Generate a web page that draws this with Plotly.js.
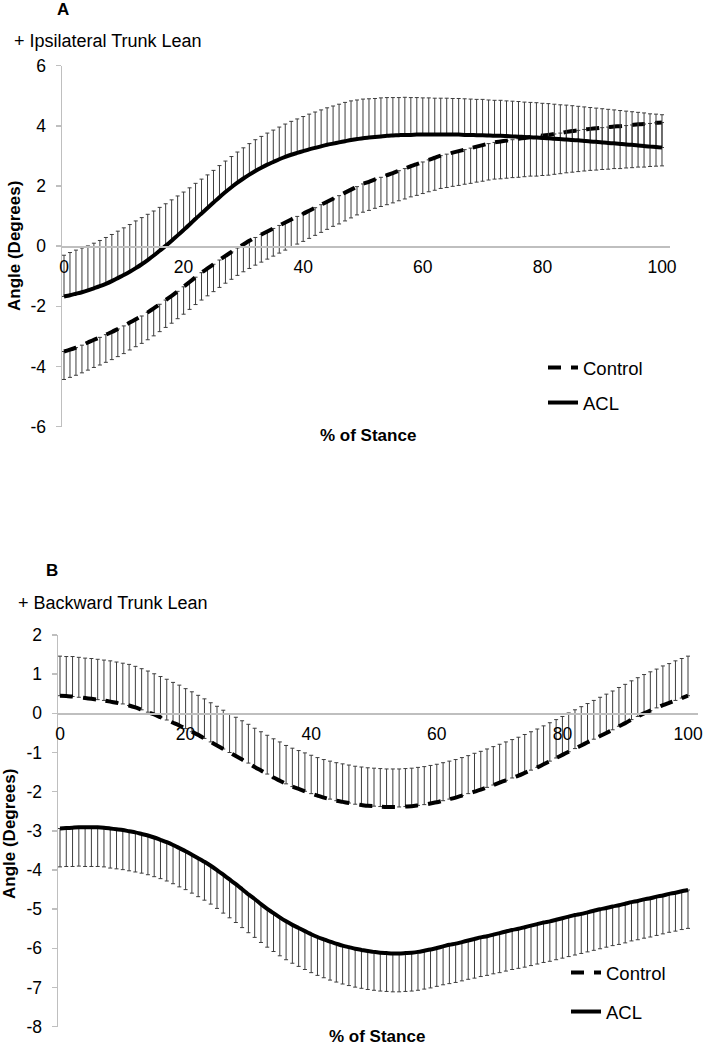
<!DOCTYPE html>
<html>
<head>
<meta charset="utf-8">
<script src="https://cdn.plot.ly/plotly-3.0.1.min.js"></script>
<style>
  html, body { margin: 0; padding: 0; background: #ffffff; }
  #chart { width: 703px; height: 1048px; }
</style>
</head>
<body>
<div id="chart"></div>
<script>
// ---------------- DATA ----------------
// % of stance (0..100, one sample per percent)
const stancePct = [0,1,2,3,4,5,6,7,8,9,10,11,12,13,14,15,16,17,18,19,20,21,22,23,24,25,26,27,28,29,30,31,32,33,34,35,36,37,38,39,40,41,42,43,44,45,46,47,48,49,50,51,52,53,54,55,56,57,58,59,60,61,62,63,64,65,66,67,68,69,70,71,72,73,74,75,76,77,78,79,80,81,82,83,84,85,86,87,88,89,90,91,92,93,94,95,96,97,98,99,100];

// Panel A: ipsilateral trunk lean (degrees)
const controlA = [-3.50,-3.44,-3.37,-3.29,-3.20,-3.11,-3.03,-2.94,-2.85,-2.75,-2.65,-2.54,-2.43,-2.32,-2.20,-2.07,-1.93,-1.79,-1.65,-1.50,-1.35,-1.19,-1.03,-0.88,-0.74,-0.60,-0.46,-0.32,-0.19,-0.06,0.06,0.18,0.29,0.39,0.49,0.59,0.69,0.79,0.89,0.99,1.08,1.18,1.28,1.38,1.48,1.58,1.68,1.78,1.88,1.98,2.07,2.14,2.22,2.29,2.36,2.43,2.51,2.58,2.66,2.73,2.80,2.87,2.94,3.01,3.06,3.11,3.16,3.21,3.26,3.31,3.36,3.41,3.45,3.48,3.51,3.54,3.57,3.60,3.63,3.65,3.68,3.70,3.73,3.76,3.80,3.83,3.85,3.88,3.90,3.92,3.94,3.96,3.98,3.99,4.01,4.03,4.05,4.06,4.08,4.10,4.11];
const controlA_sd = [0.93,0.92,0.92,0.92,0.92,0.92,0.92,0.92,0.92,0.92,0.92,0.91,0.91,0.91,0.91,0.91,0.91,0.91,0.91,0.91,0.91,0.91,0.91,0.91,0.91,0.91,0.91,0.91,0.91,0.91,0.91,0.92,0.92,0.92,0.92,0.92,0.92,0.92,0.92,0.92,0.92,0.92,0.92,0.92,0.92,0.92,0.94,0.94,0.94,0.94,0.94,0.95,0.96,0.97,0.98,0.99,1.00,1.01,1.02,1.04,1.05,1.06,1.08,1.09,1.11,1.12,1.14,1.15,1.17,1.18,1.20,1.21,1.22,1.24,1.25,1.26,1.28,1.29,1.30,1.32,1.33,1.34,1.34,1.35,1.36,1.37,1.37,1.38,1.38,1.39,1.39,1.40,1.40,1.41,1.41,1.42,1.42,1.43,1.43,1.44,1.44];
const aclA = [-1.67,-1.63,-1.58,-1.53,-1.47,-1.40,-1.33,-1.25,-1.16,-1.06,-0.96,-0.85,-0.73,-0.60,-0.46,-0.31,-0.15,0.01,0.18,0.36,0.54,0.72,0.91,1.09,1.27,1.45,1.63,1.80,1.96,2.11,2.25,2.38,2.50,2.61,2.71,2.80,2.89,2.97,3.04,3.10,3.16,3.22,3.27,3.32,3.37,3.41,3.45,3.49,3.53,3.56,3.59,3.61,3.63,3.65,3.67,3.68,3.69,3.70,3.70,3.71,3.71,3.71,3.71,3.71,3.71,3.71,3.71,3.70,3.70,3.69,3.69,3.68,3.67,3.67,3.66,3.65,3.64,3.63,3.62,3.61,3.60,3.59,3.57,3.56,3.55,3.53,3.52,3.50,3.48,3.47,3.45,3.43,3.42,3.40,3.38,3.37,3.35,3.33,3.31,3.30,3.28];
const aclA_sd = [1.37,1.42,1.45,1.47,1.48,1.50,1.52,1.54,1.55,1.56,1.57,1.57,1.57,1.55,1.52,1.48,1.44,1.40,1.36,1.31,1.26,1.22,1.18,1.14,1.10,1.07,1.05,1.03,1.02,1.02,1.02,1.03,1.04,1.04,1.05,1.06,1.07,1.09,1.11,1.13,1.15,1.17,1.19,1.21,1.23,1.25,1.27,1.29,1.30,1.30,1.30,1.29,1.28,1.28,1.27,1.26,1.25,1.25,1.24,1.23,1.22,1.22,1.21,1.21,1.21,1.20,1.20,1.20,1.19,1.19,1.19,1.18,1.18,1.18,1.17,1.17,1.17,1.16,1.16,1.16,1.15,1.15,1.15,1.14,1.14,1.14,1.13,1.13,1.13,1.12,1.12,1.12,1.11,1.11,1.11,1.10,1.10,1.10,1.09,1.09,1.09];

// Panel B: backward trunk lean (degrees)
const controlB = [0.45,0.44,0.43,0.41,0.39,0.37,0.35,0.33,0.30,0.27,0.24,0.20,0.15,0.09,0.03,-0.03,-0.10,-0.17,-0.24,-0.31,-0.39,-0.47,-0.55,-0.64,-0.73,-0.82,-0.91,-1.00,-1.09,-1.18,-1.27,-1.37,-1.46,-1.55,-1.64,-1.72,-1.80,-1.87,-1.93,-1.99,-2.05,-2.10,-2.15,-2.19,-2.23,-2.26,-2.29,-2.32,-2.34,-2.36,-2.37,-2.38,-2.39,-2.39,-2.39,-2.38,-2.37,-2.35,-2.33,-2.30,-2.27,-2.23,-2.19,-2.15,-2.10,-2.05,-2.00,-1.95,-1.89,-1.83,-1.77,-1.71,-1.65,-1.59,-1.52,-1.45,-1.38,-1.30,-1.22,-1.14,-1.06,-0.98,-0.90,-0.82,-0.74,-0.66,-0.58,-0.50,-0.42,-0.33,-0.25,-0.16,-0.08,0.00,0.07,0.14,0.21,0.27,0.33,0.39,0.45];
const controlB_sd = [1.01,1.01,1.02,1.02,1.02,1.03,1.03,1.03,1.04,1.04,1.04,1.05,1.05,1.05,1.05,1.04,1.04,1.04,1.03,1.03,1.02,1.02,1.01,1.01,1.00,1.00,0.99,0.99,0.99,0.99,0.99,0.99,0.99,0.99,0.99,0.99,0.98,0.98,0.98,0.98,0.98,0.97,0.97,0.97,0.97,0.97,0.97,0.97,0.97,0.97,0.97,0.97,0.97,0.97,0.97,0.97,0.97,0.97,0.97,0.97,0.97,0.97,0.97,0.97,0.97,0.97,0.98,0.98,0.98,0.98,0.98,0.98,0.98,0.98,0.98,0.98,0.98,0.98,0.98,0.98,0.98,0.99,0.99,0.99,0.99,0.99,0.99,0.99,0.99,0.99,0.99,0.99,0.99,0.99,0.99,0.99,1.00,1.00,1.01,1.01,1.01];
const aclB = [-2.94,-2.93,-2.92,-2.91,-2.91,-2.91,-2.91,-2.92,-2.94,-2.96,-2.98,-3.01,-3.04,-3.08,-3.12,-3.17,-3.23,-3.29,-3.36,-3.44,-3.52,-3.61,-3.70,-3.79,-3.89,-4.00,-4.12,-4.24,-4.36,-4.49,-4.62,-4.74,-4.87,-4.99,-5.10,-5.21,-5.31,-5.40,-5.48,-5.56,-5.64,-5.71,-5.77,-5.83,-5.88,-5.93,-5.97,-6.01,-6.04,-6.07,-6.09,-6.11,-6.12,-6.13,-6.13,-6.12,-6.11,-6.09,-6.06,-6.03,-5.99,-5.95,-5.91,-5.88,-5.84,-5.80,-5.76,-5.72,-5.69,-5.65,-5.61,-5.57,-5.53,-5.50,-5.46,-5.42,-5.38,-5.34,-5.31,-5.27,-5.23,-5.19,-5.15,-5.12,-5.08,-5.04,-5.00,-4.97,-4.93,-4.90,-4.86,-4.82,-4.79,-4.75,-4.72,-4.68,-4.65,-4.61,-4.58,-4.54,-4.51];
const aclB_sd = [0.98,0.98,0.99,0.99,1.00,1.00,1.00,1.00,1.01,1.01,1.01,1.01,1.01,1.00,1.00,1.00,0.99,0.99,0.99,0.99,0.98,0.98,0.98,0.98,0.98,0.98,0.98,0.98,0.98,0.98,0.98,0.98,0.98,0.98,0.98,0.98,0.98,0.98,0.98,0.98,0.98,0.98,0.98,0.98,0.98,0.98,0.98,0.98,0.98,0.98,0.98,0.98,0.98,0.98,0.98,0.98,0.98,0.98,0.98,0.98,0.98,0.98,0.99,0.99,0.99,0.99,1.00,1.00,1.00,1.00,1.01,1.01,1.01,1.01,1.02,1.02,1.02,1.02,1.02,1.02,1.02,1.02,1.02,1.01,1.01,1.01,1.01,1.00,1.00,1.00,1.00,0.99,0.99,0.99,0.99,0.99,0.98,0.98,0.98,0.98,0.98];

// Labels and ticks
const seriesNames = ["Control", "ACL"];
const panelLabels = ["A", "B"];
const panelCaptions = ["+ Ipsilateral Trunk Lean", "+ Backward Trunk Lean"];
const yTitle = "Angle (Degrees)";
const xTitle = "% of Stance";
const xTicks = [0, 20, 40, 60, 80, 100];
const yTicksA = [-6, -4, -2, 0, 2, 4, 6];
const yTicksB = [-8, -7, -6, -5, -4, -3, -2, -1, 0, 1, 2];

// ---------------- LAYOUT HELPERS ----------------
const W = 703, H = 1048;
const px = v => v / W;            // horizontal pixel -> paper
const py = v => 1 - v / H;        // vertical pixel -> paper
const FONT = "Liberation Sans, Arial, Helvetica, sans-serif";
const AXIS_GRAY = "#bfbfbf";
const BAR_COLOR = "#3d3d3d";
const LINE_COLOR = "#000000";
const DASH = "13px,10px";

function trace(y, sd, up, dashed, xa, ya, name, legendId) {
  const err = { type: "data", symmetric: false, color: BAR_COLOR, thickness: 1, width: 2 };
  if (up) { err.array = sd; } else { err.arrayminus = sd; err.array = []; }
  return {
    x: stancePct, y: y, xaxis: xa, yaxis: ya, name: name, legend: legendId,
    type: "scatter", mode: "lines",
    line: { color: LINE_COLOR, width: 4, dash: dashed ? DASH : "solid", shape: "spline", smoothing: 0.6 },
    error_y: err, hoverinfo: "skip"
  };
}

const data = [
  trace(controlA, controlA_sd, false, true, "x", "y", seriesNames[0], "legend"),
  trace(aclA, aclA_sd, true, false, "x", "y", seriesNames[1], "legend2"),
  trace(controlB, controlB_sd, true, true, "x2", "y2", seriesNames[0], "legend3"),
  trace(aclB, aclB_sd, false, false, "x2", "y2", seriesNames[1], "legend4")
];

const tickFont = { family: FONT, size: 17.5, color: "#000" };

function xAxis(domL, domR, r0, r1, posPx) {
  return {
    domain: [px(domL), px(domR)], range: [r0, r1], anchor: "free", position: py(posPx),
    showline: true, linecolor: AXIS_GRAY, linewidth: 1.5, showgrid: false, zeroline: false,
    ticks: "", tickvals: xTicks, ticktext: xTicks.map(String), tickfont: tickFont,
    ticklabelstandoff: 4, fixedrange: true
  };
}
function yAxis(domTop, domBot, r0, r1, ticks, anchor) {
  return {
    domain: [py(domBot), py(domTop)], range: [r0, r1], anchor: anchor,
    showline: true, linecolor: AXIS_GRAY, linewidth: 1.5, showgrid: false, zeroline: false,
    ticks: "outside", ticklen: 5, tickwidth: 1.5, tickcolor: AXIS_GRAY,
    tickvals: ticks, ticktext: ticks.map(String), tickfont: tickFont,
    ticklabelstandoff: 6, fixedrange: true
  };
}

function legendAt(xPx, yPx) {
  return {
    x: px(xPx), y: py(yPx), xanchor: "left", yanchor: "middle",
    bgcolor: "rgba(0,0,0,0)", borderwidth: 0,
    font: { family: FONT, size: 18.5, color: "#000" }
  };
}

function txt(text, xPx, yPx, opts) {
  return Object.assign({
    text: text, xref: "paper", yref: "paper", x: px(xPx), y: py(yPx),
    showarrow: false, xanchor: "left", yanchor: "middle",
    font: { family: FONT, size: 18, color: "#000" }
  }, opts || {});
}

const boldFont = { family: FONT, size: 17, color: "#000" };

const layout = {
  width: W, height: H,
  margin: { l: 0, r: 0, t: 0, b: 0, pad: 0 },
  paper_bgcolor: "#ffffff", plot_bgcolor: "rgba(0,0,0,0)",
  showlegend: true,
  xaxis: xAxis(62, 670, -0.334, 101.34, 246),
  yaxis: yAxis(65.7, 426.7, -6, 6, yTicksA, "x"),
  xaxis2: xAxis(58, 698, -0.318, 101.59, 713.3),
  yaxis2: yAxis(635, 1026.7, -8, 2, yTicksB, "x2"),
  legend: legendAt(543, 368),
  legend2: legendAt(543, 403),
  legend3: legendAt(566, 973),
  legend4: legendAt(566, 1012),
  annotations: [
    txt("<b>" + panelLabels[0] + "</b>", 55, 10, { font: boldFont }),
    txt(panelCaptions[0], 12, 41),
    txt("<b>" + yTitle + "</b>", 15, 246, { xanchor: "center", textangle: -90, font: boldFont }),
    txt("<b>" + xTitle + "</b>", 368, 436, { xanchor: "center", font: boldFont }),
    txt("<b>" + panelLabels[1] + "</b>", 44, 570, { font: boldFont }),
    txt(panelCaptions[1], 16, 603),
    txt("<b>" + yTitle + "</b>", 9, 834, { xanchor: "center", textangle: -90, font: boldFont }),
    txt("<b>" + xTitle + "</b>", 377, 1036, { xanchor: "center", font: boldFont })
  ]
};

Plotly.newPlot("chart", data, layout, { staticPlot: true, displayModeBar: false });
</script>
</body>
</html>
